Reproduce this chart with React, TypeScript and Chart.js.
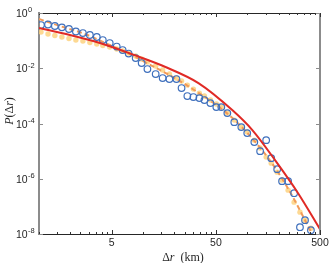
import React, { useEffect, useRef } from "react";
import { Chart, registerables } from "chart.js";

Chart.register(...registerables);

// ---- data ----
const blueX = [1.045, 1.22, 1.42, 1.66, 1.94, 2.26, 2.64, 3.08, 3.59, 4.1, 4.78, 5.58, 6.36, 7.26, 8.48, 9.68, 11.0, 13.2, 15.4, 17.9, 20.9, 23.4, 26.6, 30.4, 34.7, 38.8, 44.3, 50.5, 56.4, 64.4, 75.1, 87.7, 100, 117, 133, 152, 170, 194, 216, 247, 282, 321, 359, 409];
const blueY = [0.367, 0.383, 0.338, 0.303, 0.263, 0.214, 0.188, 0.16, 0.135, 0.105, 0.0818, 0.0611, 0.0456, 0.0341, 0.0234, 0.0154, 0.00935, 0.00616, 0.00441, 0.00406, 0.00406, 0.00192, 0.000984, 0.000905, 0.000832, 0.000705, 0.000548, 0.000393, 0.000393, 0.000238, 0.000112, 7.41e-5, 4.49e-5, 2.12e-5, 1.0e-5, 2.5e-5, 5.57e-6, 2.23e-6, 8.2e-7, 8.2e-7, 3.0e-7, 1.76e-8, 3.16e-8, 1.37e-8];

const yellowX = [1.045, 1.22, 1.42, 1.66, 1.94, 2.26, 2.64, 3.08, 3.59, 4.1, 4.78, 5.58, 6.36, 7.26, 8.48, 9.68, 11.0, 13.2, 15.4, 17.9, 20.9, 23.4, 26.6, 30.4, 34.7, 38.8, 44.3, 50.5, 56.4, 64.4, 75.1, 87.7, 100, 117, 133, 152, 170, 194, 216, 247, 282, 321, 359, 409];
const yellowY = [0.205, 0.173, 0.153, 0.135, 0.119, 0.105, 0.0968, 0.0854, 0.0753, 0.0664, 0.0586, 0.0496, 0.042, 0.0356, 0.0277, 0.0215, 0.0168, 0.012, 0.00861, 0.00616, 0.00441, 0.00344, 0.00246, 0.00176, 0.00126, 9.84e-4, 7.05e-4, 5.05e-4, 3.93e-4, 2.38e-4, 1.33e-4, 7.41e-5, 4.88e-5, 2.5e-5, 1.29e-5, 6.07e-6, 3.67e-6, 1.73e-6, 8.9e-7, 3.86e-7, 1.42e-7, 6.17e-8, 3.16e-8, 1.62e-8];

const redX = [1, 1.98, 3.84, 9.26, 16.4, 34.0, 71.8, 112, 185, 308, 500];
const redY = [0.286, 0.16, 0.0818, 0.0255, 0.0111, 0.00291, 3.06e-4, 5.77e-5, 4.72e-6, 3.0e-7, 1.5e-8];

const orangeX = [1, 1.59, 2.76, 4.78, 7.42, 12.3, 20.9, 33.2, 50.5, 70.3, 109, 170, 252, 351, 410];
const orangeY = [0.606, 0.338, 0.173, 0.0693, 0.0327, 0.012, 0.00406, 0.00137, 4.64e-4, 1.71e-4, 3.21e-5, 3.99e-6, 3.86e-7, 3.73e-8, 1.16e-8];

const xMajorTicks = [5, 50, 500];
const xTickLabels = ["5", "50", "500"];
const xMinorTicks = [1, 1.5, 2, 2.5, 3, 3.5, 4, 4.5, 10, 15, 20, 25, 30, 35, 40, 45, 100, 150, 200, 250, 300, 350, 400, 450];
const yTickExponents = [0, -2, -4, -6, -8];

const pts = (xs: number[], ys: number[]) => xs.map((x, i) => ({ x, y: ys[i] }));

const SANS = '"Liberation Sans", Arial, Helvetica, sans-serif';
const SERIF = '"Liberation Serif", "Times New Roman", serif';

type Piece = { t: string; it?: boolean };

function drawPieces(ctx: CanvasRenderingContext2D, pieces: Piece[], cx: number, cy: number, size: number) {
  const widths = pieces.map((p) => {
    ctx.font = `${p.it ? "italic " : ""}${size}px ${SERIF}`;
    return ctx.measureText(p.t).width;
  });
  const total = widths.reduce((a, b) => a + b, 0);
  let x = cx - total / 2;
  ctx.textAlign = "left";
  ctx.textBaseline = "middle";
  pieces.forEach((p, i) => {
    ctx.font = `${p.it ? "italic " : ""}${size}px ${SERIF}`;
    ctx.fillText(p.t, x, cy);
    x += widths[i];
  });
}

const axisDeco = {
  id: "axisDeco",
  afterDraw(chart: any) {
    const ctx: CanvasRenderingContext2D = chart.ctx;
    const { left, right, top, bottom } = chart.chartArea;
    const xs = chart.scales.x;
    const ys = chart.scales.y;
    ctx.save();

    // top border
    ctx.strokeStyle = "#262626";
    ctx.lineWidth = 1;
    ctx.beginPath();
    ctx.moveTo(left, Math.round(top) + 0.5);
    ctx.lineTo(right, Math.round(top) + 0.5);
    ctx.stroke();
    // right border
    ctx.strokeStyle = "#8c8c8c";
    ctx.lineWidth = 2;
    ctx.beginPath();
    ctx.moveTo(right, top);
    ctx.lineTo(right, bottom);
    ctx.stroke();

    // x ticks (inward, bottom and top)
    ctx.strokeStyle = "#333";
    ctx.lineWidth = 1;
    const xt = (v: number, len: number) => {
      const px = Math.round(xs.getPixelForValue(v)) + 0.5;
      ctx.beginPath();
      ctx.moveTo(px, bottom);
      ctx.lineTo(px, bottom - len);
      ctx.moveTo(px, top);
      ctx.lineTo(px, top + len);
      ctx.stroke();
    };
    xMinorTicks.forEach((v) => xt(v, 2));
    xMajorTicks.forEach((v) => xt(v, 4));

    // y ticks (inward, left and right)
    ctx.strokeStyle = "#8c8c8c";
    yTickExponents.forEach((e) => {
      const py = Math.round(ys.getPixelForValue(Math.pow(10, e))) + 0.5;
      ctx.beginPath();
      ctx.moveTo(left, py);
      ctx.lineTo(left + 4, py);
      ctx.moveTo(right, py);
      ctx.lineTo(right - 4, py);
      ctx.stroke();
    });

    // y tick labels 10^n
    ctx.fillStyle = "#262626";
    ctx.textBaseline = "middle";
    ctx.textAlign = "left";
    yTickExponents.forEach((e) => {
      const py = ys.getPixelForValue(Math.pow(10, e));
      ctx.font = `10.5px ${SANS}`;
      ctx.fillText("10", 16, py + 1.2);
      const w = ctx.measureText("10").width;
      ctx.font = `7.5px ${SANS}`;
      ctx.fillText(e === 0 ? "0" : "-" + String(-e), 16 + w + 0.3, py - 2.8);
    });

    // x tick labels
    ctx.font = `10.5px ${SANS}`;
    ctx.textAlign = "center";
    xMajorTicks.forEach((v, i) => {
      const px = xs.getPixelForValue(v);
      ctx.fillText(xTickLabels[i], px, bottom + 9);
    });

    // axis titles
    ctx.fillStyle = "#262626";
    drawPieces(ctx, [{ t: "Δ" }, { t: "r", it: true }, { t: "  (km)" }], 183, 257.5, 12);
    ctx.save();
    ctx.translate(10, 111);
    ctx.rotate(-Math.PI / 2);
    drawPieces(ctx, [{ t: "P", it: true }, { t: "(Δ" }, { t: "r", it: true }, { t: ")" }], 0, 0, 12);
    ctx.restore();

    ctx.restore();
  },
};

export default function App() {
  const ref = useRef<HTMLCanvasElement | null>(null);

  useEffect(() => {
    if (!ref.current) return;
    const chart = new Chart(ref.current, {
      type: "scatter",
      data: {
        datasets: [
          {
            label: "fit",
            data: pts(redX, redY),
            showLine: true,
            borderColor: "#e02a25",
            borderWidth: 2,
            pointRadius: 0,
            cubicInterpolationMode: "monotone",
          } as any,
          {
            label: "data",
            data: pts(blueX, blueY),
            showLine: false,
            pointRadius: 3.3,
            pointBorderWidth: 1.2,
            borderColor: "#3f70bd",
            backgroundColor: "rgba(0,0,0,0)",
            pointBackgroundColor: "rgba(0,0,0,0)",
          } as any,
          {
            label: "model",
            data: pts(orangeX, orangeY),
            showLine: true,
            borderColor: "#f29a58",
            borderWidth: 2,
            borderDash: [5, 3],
            pointRadius: 0,
            cubicInterpolationMode: "monotone",
          } as any,
          {
            label: "sim",
            data: pts(yellowX, yellowY),
            showLine: false,
            pointRadius: 2.7,
            pointBorderWidth: 0,
            borderColor: "rgba(0,0,0,0)",
            backgroundColor: "rgba(253,208,120,0.8)",
            pointBackgroundColor: "rgba(253,208,120,0.8)",
          } as any,
        ],
      },
      options: {
        animation: false,
        responsive: false,
        maintainAspectRatio: false,
        devicePixelRatio: 1,
        layout: { padding: { top: 13, right: 12, left: 0, bottom: 0 } },
        plugins: { legend: { display: false }, tooltip: { enabled: false } },
        scales: {
          x: {
            type: "logarithmic",
            min: 1,
            max: 500,
            position: "bottom",
            grid: { display: false, drawTicks: false },
            border: { display: true, color: "#262626", width: 1 },
            ticks: { display: false },
            afterFit: (s: any) => {
              s.height = 29;
            },
          },
          y: {
            type: "logarithmic",
            min: 1e-8,
            max: 1,
            position: "left",
            grid: { display: false, drawTicks: false },
            border: { display: true, color: "#8c8c8c", width: 2 },
            ticks: { display: false },
            afterFit: (s: any) => {
              s.width = 39;
            },
          },
        },
      } as any,
      plugins: [axisDeco],
    });
    return () => chart.destroy();
  }, []);

  return (
    <div style={{ position: "fixed", left: 0, top: 0, width: 332, height: 263, background: "#fff" }}>
      <canvas ref={ref} width={332} height={263} style={{ display: "block", width: 332, height: 263 }} />
    </div>
  );
}
